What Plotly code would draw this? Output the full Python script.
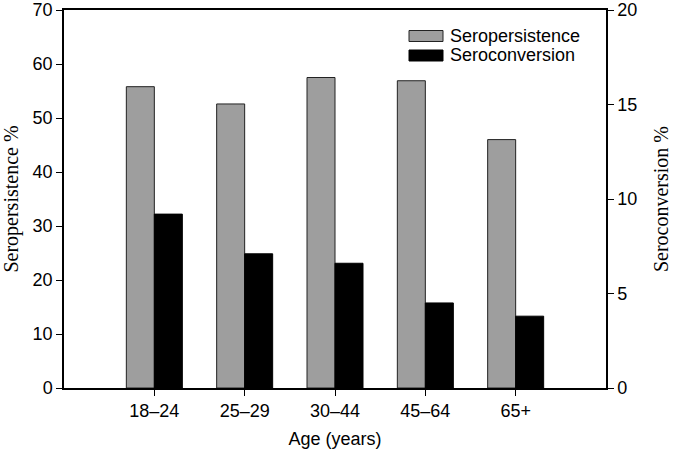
import plotly.graph_objects as go

categories = ["18\u201324", "25\u201329", "30\u201344", "45\u201364", "65+"]
seropersistence = [55.8, 52.6, 57.5, 56.9, 46.0]
seroconversion = [9.2, 7.1, 6.6, 4.5, 3.8]

x_idx = list(range(len(categories)))
bar_w = 0.31

fig = go.Figure()
fig.add_trace(go.Bar(
    x=x_idx, y=seropersistence, name="Seropersistence",
    width=bar_w, offset=-bar_w,
    marker=dict(color="#9e9e9e", line=dict(color="#222222", width=1)),
    yaxis="y", showlegend=False,
))
fig.add_trace(go.Bar(
    x=x_idx, y=seroconversion, name="Seroconversion",
    width=bar_w, offset=0,
    marker=dict(color="#000000", line=dict(color="#000000", width=1)),
    yaxis="y2", showlegend=False,
))

sans = "Liberation Sans, Arial, sans-serif"
serif = "Liberation Serif, Times New Roman, serif"

fig.update_layout(
    width=674, height=452,
    margin=dict(l=64, r=68, t=10, b=64),
    paper_bgcolor="white", plot_bgcolor="white",
    barmode="overlay",
    font=dict(family=sans, size=18, color="black"),
    xaxis=dict(
        range=[-1, 5], tickvals=x_idx, ticktext=categories,
        showline=True, linecolor="black", linewidth=1.5,
        ticks="outside", ticklen=6, tickcolor="black",
        showgrid=False, zeroline=False, mirror=True, automargin=False,
        title=dict(text="Age (years)", font=dict(family=sans, size=18), standoff=12),
        tickfont=dict(family=sans, size=18),
    ),
    yaxis=dict(
        range=[0, 70], dtick=10,
        showline=True, linecolor="black", linewidth=1.5,
        ticks="outside", ticklen=6, tickcolor="black",
        showgrid=False, zeroline=False, automargin=False,
        title=dict(text="Seropersistence %", font=dict(family=serif, size=20), standoff=14),
        tickfont=dict(family=sans, size=18),
    ),
    yaxis2=dict(
        range=[0, 20], dtick=5, overlaying="y", side="right",
        showline=True, linecolor="black", linewidth=1.5,
        ticks="outside", ticklen=6, tickcolor="black",
        showgrid=False, zeroline=False, automargin=False,
        title=dict(text="Seroconversion %", font=dict(family=serif, size=20), standoff=18),
        tickfont=dict(family=sans, size=18),
    ),
)

# Manual legend (wide swatches as in the reference)
legend_items = [("Seropersistence", "#9e9e9e", "#222222"), ("Seroconversion", "#000000", "#000000")]
for i, (label, fill, edge) in enumerate(legend_items):
    y0 = 30.5 + i * 19.5
    fig.add_shape(type="rect", xref="paper", yref="paper",
                  x0=(409 - 64) / 542, x1=(443 - 64) / 542,
                  y0=1 - (y0 + 11 - 10) / 378, y1=1 - (y0 - 10) / 378,
                  fillcolor=fill, line=dict(color=edge, width=1))
    fig.add_annotation(xref="paper", yref="paper",
                       x=(448 - 64) / 542, y=1 - (y0 + 5.5 - 10) / 378,
                       text=label, showarrow=False, xanchor="left", yanchor="middle",
                       font=dict(family=sans, size=18, color="black"))

fig.write_html("out.html", config={"displayModeBar": False},
               post_script="document.body.style.margin='0';")
